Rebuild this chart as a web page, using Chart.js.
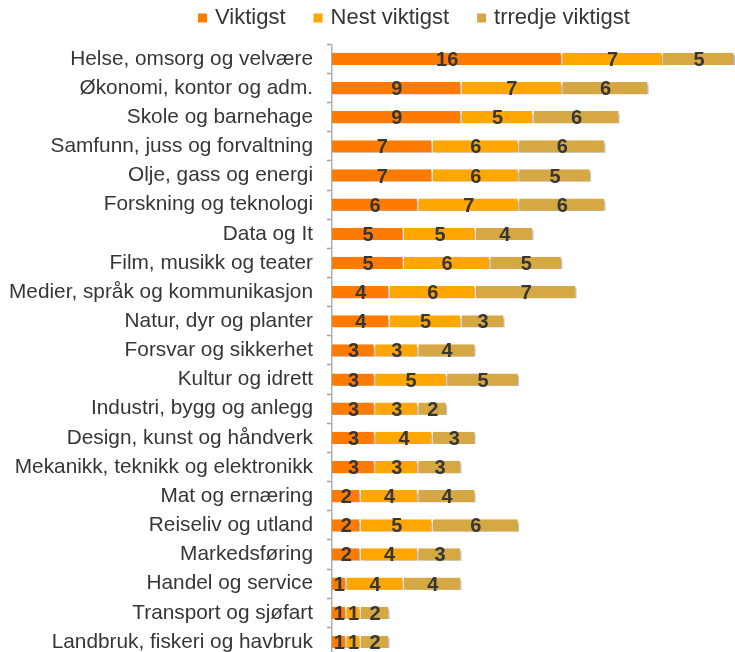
<!DOCTYPE html>
<html>
<head>
<meta charset="utf-8">
<script src="https://cdn.jsdelivr.net/npm/chart.js@4/dist/chart.umd.min.js"></script>
<style>
    html, body { margin: 0; padding: 0; background: #fff; overflow: hidden; }
    canvas { display: block; }
</style>
</head>
<body>
<canvas id="fagChart" width="735" height="660"></canvas>
<script>
const categories = [
    'Helse, omsorg og velvære',
    'Økonomi, kontor og adm.',
    'Skole og barnehage',
    'Samfunn, juss og forvaltning',
    'Olje, gass og energi',
    'Forskning og teknologi',
    'Data og It',
    'Film, musikk og teater',
    'Medier, språk og kommunikasjon',
    'Natur, dyr og planter',
    'Forsvar og sikkerhet',
    'Kultur og idrett',
    'Industri, bygg og anlegg',
    'Design, kunst og håndverk',
    'Mekanikk, teknikk og elektronikk',
    'Mat og ernæring',
    'Reiseliv og utland',
    'Markedsføring',
    'Handel og service',
    'Transport og sjøfart',
    'Landbruk, fiskeri og havbruk'
];
const viktigst       = [16, 9, 9, 7, 7, 6, 5, 5, 4, 4, 3, 3, 3, 3, 3, 2, 2, 2, 1, 1, 1];
const nestViktigst   = [7, 7, 5, 6, 6, 7, 5, 6, 6, 5, 3, 5, 3, 4, 3, 4, 5, 4, 4, 1, 1];
const tredjeViktigst = [5, 6, 6, 6, 5, 6, 4, 5, 7, 3, 4, 5, 2, 3, 3, 4, 6, 3, 4, 2, 2];

const seriesLabels = ['Viktigst', 'Nest viktigst', 'trredje viktigst'];
const seriesColors = ['#FF7B00', '#FFA600', '#D5A843'];
const xMax = 28;

const FONT = '"Liberation Sans", Arial, sans-serif';
const TEXT = '#363636';

// shadow under bars + value labels in the middle of each segment
const barDecor = {
    id: 'barDecor',
    beforeDatasetsDraw(chart) {
        const ctx = chart.ctx;
        ctx.save();
        ctx.shadowColor = 'rgba(0,0,0,0.35)';
        ctx.shadowBlur = 2;
        ctx.shadowOffsetX = 1;
        ctx.shadowOffsetY = 2.5;
    },
    afterDatasetsDraw(chart) {
        const ctx = chart.ctx;
        ctx.restore();
        ctx.save();
        ctx.font = 'bold 20px ' + FONT;
        ctx.fillStyle = TEXT;
        ctx.textAlign = 'center';
        ctx.textBaseline = 'middle';
        chart.data.datasets.forEach((ds, i) => {
            chart.getDatasetMeta(i).data.forEach((bar, j) => {
                const cx = (bar.x + bar.base) / 2;
                ctx.fillText(String(ds.data[j]), cx, bar.y + 1.5);
            });
        });
        ctx.restore();
    }
};

// legend drawn by hand so it sits where the original one is
const topLegend = {
    id: 'topLegend',
    afterDraw(chart) {
        const ctx = chart.ctx;
        ctx.save();
        ctx.font = '22px ' + FONT;
        ctx.textBaseline = 'middle';
        let x = 198;
        const y = 18;
        chart.data.datasets.forEach(ds => {
            ctx.fillStyle = ds.backgroundColor;
            ctx.fillRect(x, y - 4.5, 9, 9);
            x += 9 + 8;
            ctx.fillStyle = TEXT;
            ctx.fillText(ds.label, x, y);
            x += ctx.measureText(ds.label).width + 28;
        });
        ctx.restore();
    }
};

const datasets = [viktigst, nestViktigst, tredjeViktigst].map((values, i) => ({
    label: seriesLabels[i],
    data: values,
    backgroundColor: seriesColors[i],
    borderColor: '#ffffff',
    borderWidth: { left: 0, right: 1.5, top: 0, bottom: 0 },
    borderSkipped: false,
    barPercentage: 0.42,
    categoryPercentage: 1.0
}));

new Chart(document.getElementById('fagChart'), {
    type: 'bar',
    data: { labels: categories, datasets: datasets },
    options: {
        indexAxis: 'y',
        responsive: false,
        animation: false,
        layout: { padding: { top: 44.3, bottom: 3.5, left: 0, right: 0 } },
        plugins: {
            legend: { display: false },
            tooltip: { enabled: false }
        },
        scales: {
            x: {
                stacked: true,
                display: false,
                min: 0,
                max: xMax
            },
            y: {
                stacked: true,
                afterFit: scale => {
                    scale.width = 332;
                    scale.paddingTop = 0;
                    scale.paddingBottom = 0;
                },
                grid: {
                    drawOnChartArea: false,
                    drawTicks: true,
                    tickLength: 5,
                    tickWidth: 1.5,
                    tickColor: '#a0a0a0',
                    color: '#a0a0a0'
                },
                border: { display: true, color: '#b0b0b0', width: 1.5 },
                ticks: {
                    padding: 14,
                    color: TEXT,
                    font: { family: FONT, size: 20.8 }
                }
            }
        }
    },
    plugins: [barDecor, topLegend]
});
</script>
</body>
</html>
